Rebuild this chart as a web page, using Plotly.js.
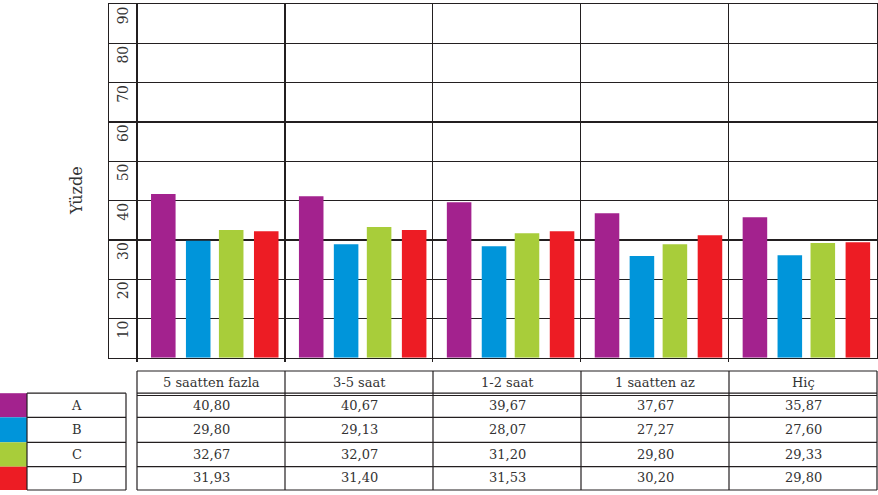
<!DOCTYPE html>
<html>
<head>
<meta charset="utf-8">
<script src="https://cdn.plot.ly/plotly-3.0.1.min.js"></script>
<style>html,body{margin:0;padding:0;background:#fff;}#chart{width:878px;height:495px;}</style>
</head>
<body>
<div id="chart"></div>
<script>
// ---- data ----
var categories = ['5 saatten fazla', '3-5 saat', '1-2 saat', '1 saatten az', 'Hiç'];
var seriesNames = ['A', 'B', 'C', 'D'];
// bar heights as drawn in the picture
var barA = [41.7, 41.1, 39.6, 36.8, 35.8];
var barB = [29.8, 28.9, 28.4, 25.9, 26.1];
var barC = [32.5, 33.3, 31.7, 28.9, 29.2];
var barD = [32.2, 32.5, 32.2, 31.2, 29.4];
// values printed in the table
var tableA = [40.80, 40.67, 39.67, 37.67, 35.87];
var tableB = [29.80, 29.13, 28.07, 27.27, 27.60];
var tableC = [32.67, 32.07, 31.20, 29.80, 29.33];
var tableD = [31.93, 31.40, 31.53, 30.20, 29.80];
var yTickVals = [10, 20, 30, 40, 50, 60, 70, 80, 90];
var yTickText = ['10', '20', '30', '40', '50', '60', '70', '80', '90'];
var yTitle = 'Yüzde';

// ---- styling ----
var W = 878, H = 495;
var colors = ['#A3228E', '#0095DA', '#A8CD3A', '#ED1C24'];
var lineCol = '#231F20';
var txtCol = '#333333';
var FONT = 'DejaVu Serif, serif';
var barOffsets = [-0.405, -0.169, 0.054, 0.291];
var barWidth = 0.166;

function px(x) { return x / W; }
function py(y) { return 1 - y / H; }

var bars = [barA, barB, barC, barD];
var tables = [tableA, tableB, tableC, tableD];

var traces = bars.map(function (vals, i) {
  return {
    type: 'bar', x: categories, y: vals, name: seriesNames[i],
    marker: { color: colors[i], line: { width: 0 } },
    offset: barOffsets[i], width: barWidth, hoverinfo: 'skip'
  };
});

var shapes = [];
var annotations = [];
function hline(x0, x1, y) {
  shapes.push({ type: 'line', xref: 'paper', yref: 'paper', x0: px(x0), x1: px(x1), y0: py(y), y1: py(y), line: { color: lineCol, width: 1.2 } });
}
function vline(x, y0, y1) {
  shapes.push({ type: 'line', xref: 'paper', yref: 'paper', x0: px(x), x1: px(x), y0: py(y0), y1: py(y1), line: { color: lineCol, width: 1.2 } });
}
function text(x, y, t, size, angle) {
  annotations.push({ xref: 'paper', yref: 'paper', x: px(x), y: py(y), text: t, showarrow: false, xanchor: 'center', yanchor: 'middle', textangle: angle || 0, font: { family: FONT, size: size, color: txtCol } });
}

// y tick labels sitting just below their grid lines (placed through the y scale)
yTickVals.forEach(function (v, k) {
  annotations.push({ xref: 'paper', yref: 'y', x: px(123), y: v, yshift: -11, text: yTickText[k], showarrow: false, xanchor: 'center', yanchor: 'middle', textangle: -90, font: { family: FONT, size: 14, color: txtCol } });
});

// value table geometry
var colX = [137, 285, 433, 581, 729, 877];
var rowY = [395.5, 417.3, 442.3, 466.7, 490];
var headTop = 371, headBot = 393.2;
hline(137, 877, headTop);
hline(137, 877, headBot);
rowY.forEach(function (y) { hline(137, 877, y); });
colX.forEach(function (x) { vline(x, headTop, 490); });
categories.forEach(function (c, j) {
  text((colX[j] + colX[j + 1]) / 2, 382, c, 13);
});
function fmt(v) { return v.toFixed(2).replace('.', ','); }
tables.forEach(function (row, i) {
  var yc = (rowY[i] + rowY[i + 1]) / 2 - 0.5;
  row.forEach(function (v, j) {
    text((colX[j] + colX[j + 1]) / 2, yc, fmt(v), 13);
  });
});

// legend table
var legRowY = [393.2, 417.3, 442.3, 466.7, 490];
for (var i = 0; i < 4; i++) {
  shapes.push({ type: 'rect', xref: 'paper', yref: 'paper', x0: px(0), x1: px(27), y0: py(legRowY[i]), y1: py(legRowY[i + 1]), fillcolor: colors[i], line: { width: 0 } });
  text(76.5, (legRowY[i] + legRowY[i + 1]) / 2, seriesNames[i], 13);
}
legRowY.forEach(function (y) { hline(27, 126, y); });
vline(27, 393.2, 490);
vline(126, 393.2, 490);

// y title
text(76, 191, yTitle, 16, -90);

var layout = {
  width: W, height: H,
  margin: { l: 0, r: 0, t: 0, b: 0 },
  paper_bgcolor: '#ffffff', plot_bgcolor: '#ffffff',
  showlegend: false,
  barmode: 'overlay',
  xaxis: {
    type: 'category', categoryarray: categories, categoryorder: 'array',
    domain: [px(109), px(876.5)],
    range: [-0.5 - 28 / 148, 4.5],
    showgrid: true, gridcolor: lineCol, gridwidth: 1.3,
    tickson: 'boundaries', ticks: 'outside', ticklen: 3, tickcolor: lineCol, tickwidth: 1.3,
    showticklabels: false,
    showline: true, linecolor: lineCol, linewidth: 1.3, mirror: true,
    zeroline: false, fixedrange: true
  },
  yaxis: {
    domain: [py(357.7), py(4.3)],
    range: [0, 90],
    tickvals: yTickVals, ticktext: yTickText,
    showticklabels: false,
    ticks: '',
    showgrid: true, gridcolor: lineCol, gridwidth: 1.3,
    showline: true, linecolor: lineCol, linewidth: 1.3, mirror: true,
    zeroline: false, fixedrange: true
  },
  shapes: shapes,
  annotations: annotations
};

Plotly.newPlot('chart', traces, layout, { displayModeBar: false, staticPlot: true });
</script>
</body>
</html>
